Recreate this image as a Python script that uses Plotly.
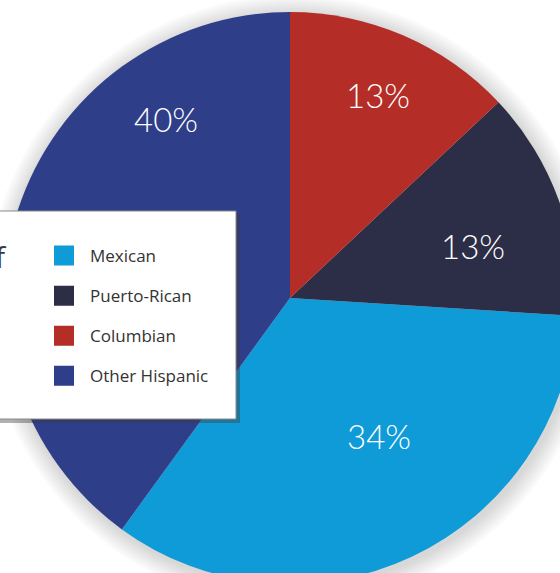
import plotly.graph_objects as go

# Hispanic origin breakdown (percent)
categories = ["Mexican", "Puerto-Rican", "Columbian", "Other Hispanic"]
shares = [34, 13, 13, 40]
colors = ["#0e9bd8", "#2c2d47", "#b42d27", "#2f3e88"]

# Canvas is slightly larger than the view so the pie bleeds off the edges
W, H = 580, 596
cx, cy, r = 290, 298, 286          # pie centre / radius in px (top-left origin)

# where each percentage label sits (px, top-left origin), kept clear of the legend
label_xy = [(379, 436), (473, 246), (378, 95), (166, 119)]


def px_x(x):
    return x / W


def px_y(y):
    return 1 - y / H


fig = go.Figure()

# soft halo around the pie
for k in range(8):
    rr = r + 2 + k * 2.5
    fig.add_shape(type="circle", xref="paper", yref="paper", layer="below",
                  x0=px_x(cx - rr + 2), x1=px_x(cx + rr + 2),
                  y0=px_y(cy + rr + 3), y1=px_y(cy - rr + 3),
                  fillcolor="rgba(90,90,90,0.03)", line_width=0)

fig.add_trace(go.Pie(
    labels=categories,
    values=shares,
    marker=dict(colors=colors, line=dict(width=0)),
    sort=False,
    direction="counterclockwise",
    rotation=93.6,
    textinfo="none",
    domain=dict(x=[px_x(cx - r), px_x(cx + r)], y=[px_y(cy + r), px_y(cy - r)]),
    showlegend=False,
    hoverinfo="label+percent",
))

# percentage labels
total = sum(shares)
for v, (lx, ly) in zip(shares, label_xy):
    fig.add_annotation(text=f"{round(100 * v / total)}%", xref="paper", yref="paper",
                       x=px_x(lx), y=px_y(ly), xanchor="center", yanchor="middle",
                       showarrow=False,
                       font=dict(family="Lato", size=33, color="white", weight=300))

# legend entries, one group each so the rows can be spaced out
for name, col in zip(categories, colors):
    fig.add_trace(go.Scatter(
        x=[None], y=[None], mode="markers", name=name, legendgroup=name,
        marker=dict(symbol="square", size=20, color=col, line=dict(width=4, color=col)),
        hoverinfo="skip",
    ))

# legend panel: shadow, then white box running off the left edge
bx0, bx1, by0, by1 = -20, 236, 211, 419
fig.add_shape(type="rect", xref="paper", yref="paper", layer="above",
              x0=px_x(bx0), x1=px_x(bx1 + 4), y0=px_y(by1 + 4), y1=px_y(by0 + 3),
              fillcolor="rgba(60,60,60,0.4)", line_width=0)
fig.add_shape(type="rect", xref="paper", yref="paper", layer="above",
              x0=px_x(bx0), x1=px_x(bx1), y0=px_y(by1), y1=px_y(by0),
              fillcolor="white", line=dict(color="#8a8a8a", width=1))

# tail of the panel title
fig.add_annotation(text="of", xref="paper", yref="paper",
                   x=px_x(9), y=px_y(256), xanchor="right", yanchor="middle",
                   showarrow=False, font=dict(family="Open Sans", size=30, color="#3a3a3a"))

fig.update_layout(
    width=W, height=H,
    margin=dict(l=0, r=0, t=0, b=0),
    paper_bgcolor="white", plot_bgcolor="rgba(0,0,0,0)",
    xaxis=dict(visible=False), yaxis=dict(visible=False),
    showlegend=True,
    legend=dict(
        x=px_x(38), y=px_y(238), xanchor="left", yanchor="top",
        bgcolor="rgba(0,0,0,0)", borderwidth=0,
        font=dict(family="Open Sans", size=17, color="#333333"),
        tracegroupgap=15, itemwidth=42, itemclick=False, itemdoubleclick=False,
    ),
)

fig.write_html(
    "out.html",
    post_script="document.documentElement.style.overflow='hidden';"
                "document.body.style.overflow='hidden';document.body.style.margin='0';",
)
